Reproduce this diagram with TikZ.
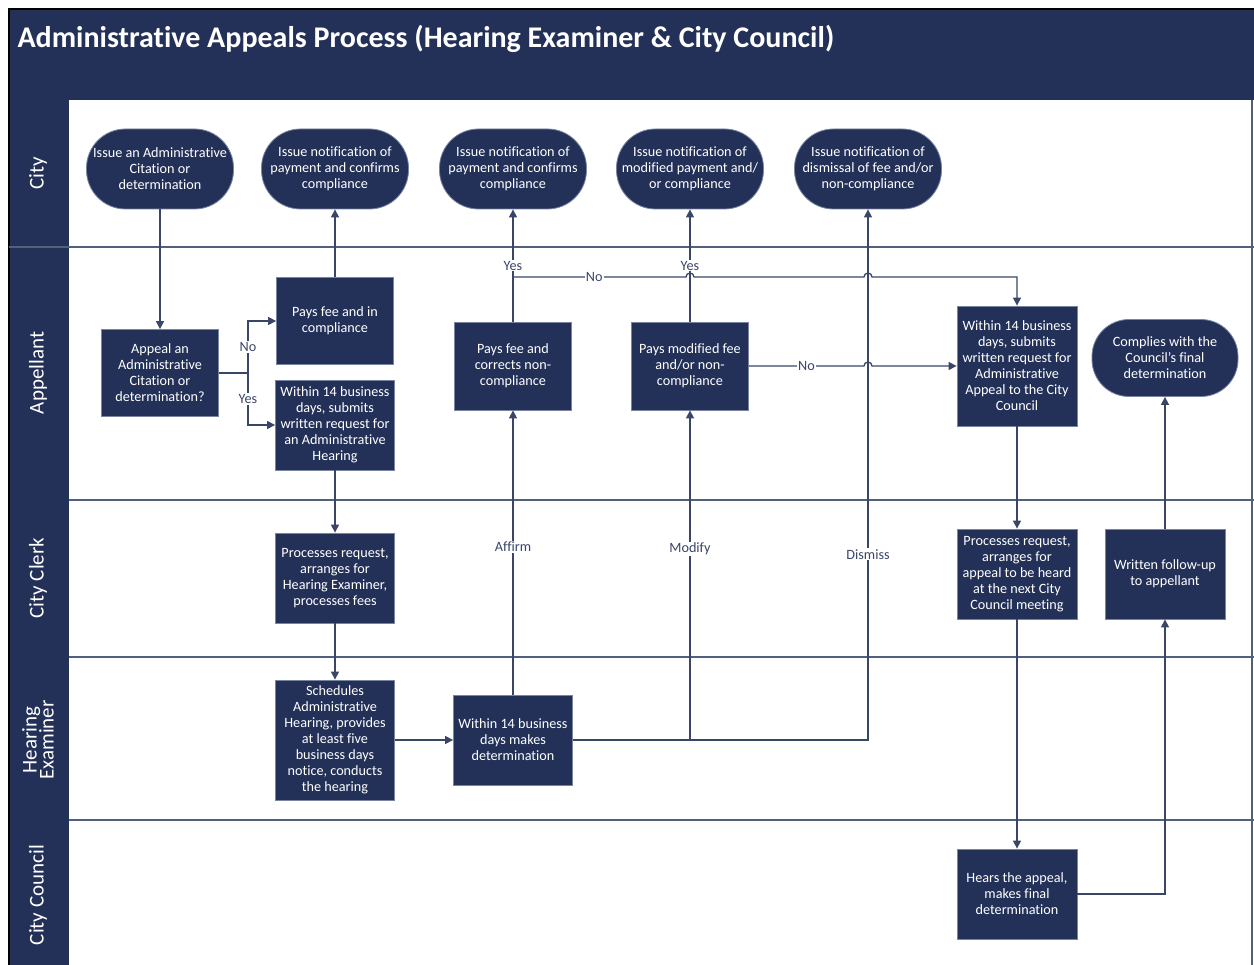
\documentclass[tikz,border=0pt]{standalone}
\usepackage{fontspec}
\setmainfont{Carlito}[Ligatures=NoCommon]
\usetikzlibrary{arrows.meta}
\definecolor{navy}{RGB}{35,49,89}
\definecolor{boxedge}{RGB}{120,132,160}
\definecolor{wire}{RGB}{58,70,104}
\definecolor{laneline}{RGB}{80,96,125}
\newcommand\flowfont{\fontsize{14.2}{16}\selectfont}
\newcommand\lanefont{\fontsize{21}{21}\selectfont}
\newcommand\headfont{\fontsize{30}{32}\selectfont\bfseries}
\begin{document}
\begin{tikzpicture}[x=1pt,y=-1pt,
  procbox/.style={fill=navy,draw=boxedge,line width=0.8,text=white,align=center,inner sep=2,minimum width=119,minimum height=90,font=\flowfont},
  termbox/.style={procbox,minimum width=147,minimum height=80,rounded corners=39},
  flow/.style={draw=wire,line width=1.3,-{Triangle[length=8pt,width=8pt]}},
  lbl/.style={fill=white,text=wire,font=\flowfont,inner sep=1},
  lanetitle/.style={rotate=90,text=white,font=\lanefont,align=center}]
\useasboundingbox (0,0) rectangle (1254,965);
% frame and lanes
\fill[white] (0,0) rectangle (1254,965);
\fill[navy] (9,9) rectangle (1254,100);
\fill[navy] (9,100) rectangle (69,965);
\draw[black,line width=2] (9,965) -- (9,9) -- (1254,9);
\draw[laneline,line width=1.5] (1252,100) -- (1252,965);
\draw[laneline,line width=1.5] (9,247) -- (1254,247);
\foreach \y in {500,657,820}
  \draw[laneline,line width=1.5] (69,\y) -- (1254,\y);
\node[anchor=west,text=white,font=\headfont] (title) at (14,39) {Administrative Appeals Process (Hearing Examiner \& City Council)};
\node[lanetitle] (lcity) at (38,173) {City};
\node[lanetitle] (lappel) at (38,373) {Appellant};
\node[lanetitle] (lclerk) at (38,578) {City Clerk};
\node[lanetitle] (lexam) at (38,740) {Hearing\\[-4pt]Examiner};
\node[lanetitle] (lcouncil) at (38,895) {City Council};
% City
\node[termbox] (c1) at (160,169) {Issue an Administrative\\Citation or\\determination};
\node[termbox] (c2) at (335,169) {Issue notification of\\payment and confirms\\compliance};
\node[termbox] (c3) at (513,169) {Issue notification of\\payment and confirms\\compliance};
\node[termbox] (c4) at (690,169) {Issue notification of\\modified payment and/\\or compliance};
\node[termbox] (c5) at (868,169) {Issue notification of\\dismissal of fee and/or\\non-compliance};
% Appellant
\node[procbox,minimum width=117,minimum height=87] (a1) at (160,373) {Appeal an\\Administrative\\Citation or\\determination?};
\node[procbox,minimum width=117,minimum height=87] (a2) at (335,321) {Pays fee and in\\compliance};
\node[procbox] (a3) at (335,425) {Within 14 business\\days, submits\\written request for\\an Administrative\\Hearing};
\node[procbox,minimum width=117,minimum height=88] (a4) at (513,366) {Pays fee and\\corrects non-\\compliance};
\node[procbox,minimum width=117,minimum height=88] (a5) at (690,366) {Pays modified fee\\and/or non-\\compliance};
\node[procbox,minimum width=120,minimum height=120] (a6) at (1017,366) {Within 14 business\\days, submits\\written request for\\Administrative\\Appeal to the City\\Council};
\node[termbox,minimum width=146,minimum height=77,rounded corners=37] (a7) at (1165,358) {Complies with the\\Council's final\\determination};
% City Clerk
\node[procbox] (k1) at (335,578) {Processes request,\\arranges for\\Hearing Examiner,\\processes fees};
\node[procbox,minimum width=120] (k2) at (1017,574) {Processes request,\\arranges for\\appeal to be heard\\at the next City\\Council meeting};
\node[procbox,minimum width=120] (k3) at (1165,574) {Written follow-up\\to appellant};
% Hearing Examiner
\node[procbox,minimum height=120] (h1) at (335,740) {Schedules\\Administrative\\Hearing, provides\\at least five\\business days\\notice, conducts\\the hearing};
\node[procbox] (h2) at (513,740) {Within 14 business\\days makes\\determination};
% City Council
\node[procbox,minimum width=120] (u1) at (1017,894) {Hears the appeal,\\makes final\\determination};
% connectors
\coordinate (fork) at (248,373);
\coordinate (split) at (513,277);
\draw[flow] (c1.south) -- (a1.north);
\draw[draw=wire,line width=1.3] (a1.east) -- (fork);
\draw[flow] (fork) |- node[lbl,pos=0.25]{No} (a2.west);
\draw[flow] (fork) |- node[lbl,pos=0.25]{Yes} (a3.west);
\draw[flow] (a2.north) -- (c2.south);
\draw[flow] (a3.south) -- (k1.north);
\draw[flow] (k1.south) -- (h1.north);
\draw[flow] (h1.east) -- (h2.west);
\draw[flow] (h2.north) -- node[lbl,pos=0.52]{Affirm} (a4.south);
\draw[flow] (h2.east) -| node[lbl,pos=0.79]{Modify} (a5.south);
\draw[flow] (h2.east) -| node[lbl,pos=0.675]{Dismiss} (c5.south);
\draw[flow] (a4.north) -- node[lbl]{Yes} (c3.south);
\draw[flow] (a5.north) -- node[lbl]{Yes} (c4.south);
\draw[flow] (split) -- node[lbl,pos=0.47]{No} (686,277) arc[start angle=180,end angle=0,radius=4pt] -- (864,277) arc[start angle=180,end angle=0,radius=4pt] -| (a6.north);
\draw[flow] (a5.east) -- node[lbl]{No} (864,366) arc[start angle=180,end angle=0,radius=4pt] -- (a6.west);
\draw[flow] (a6.south) -- (k2.north);
\draw[flow] (k2.south) -- (u1.north);
\draw[flow] (u1.east) -| (k3.south);
\draw[flow] (k3.north) -- (a7.south);
\end{tikzpicture}
\end{document}
